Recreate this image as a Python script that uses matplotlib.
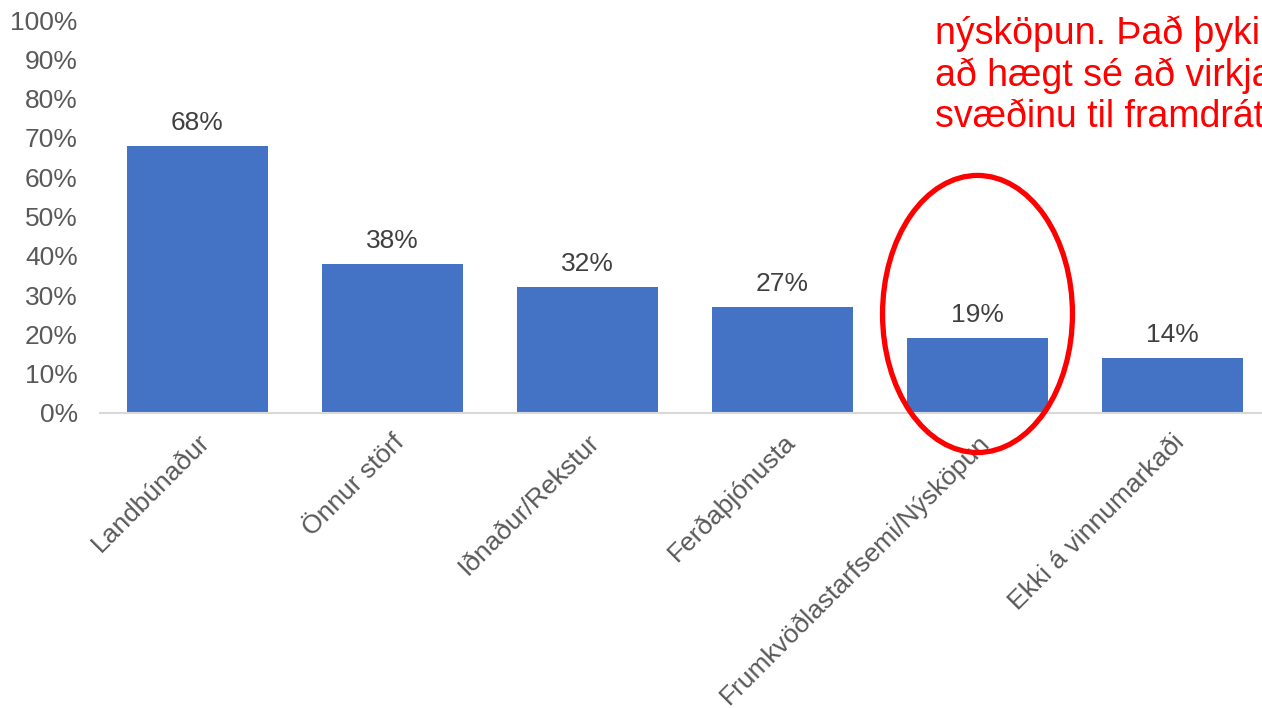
import matplotlib
matplotlib.use("Agg")
import matplotlib.pyplot as plt
from matplotlib.patches import Ellipse

categories = ["Landbúnaður", "Önnur störf", "Iðnaður/Rekstur", "Ferðaþjónusta",
              "Frumkvöðlastarfsemi/Nýsköpun", "Ekki á vinnumarkaði"]
values = [68, 38, 32, 27, 19, 14]
value_labels = ["68%", "38%", "32%", "27%", "19%", "14%"]
yticks = [0, 10, 20, 30, 40, 50, 60, 70, 80, 90, 100]
ytick_labels = [f"{v}%" for v in yticks]
note_lines = ["nýsköpun. Það þykir", "að hægt sé að virkja", "svæðinu til framdráttar"]

plt.rcParams['font.family'] = ['Liberation Sans', 'DejaVu Sans']

W, H = 1262, 708
fig = plt.figure(figsize=(W / 100, H / 100), dpi=100)
ax = fig.add_axes([100 / W, 1 - 413 / H, 1170 / W, (413 - 20) / H])

x = list(range(len(categories)))
ax.bar(x, values, width=0.718, color="#4472C4", zorder=2)
ax.set_xlim(-0.5, len(categories) - 0.5)
ax.set_ylim(0, 100)

for xi, v, lab in zip(x, values, value_labels):
    ax.annotate(lab, (xi, v), xytext=(0, 8), textcoords="offset points",
                ha="center", va="bottom", fontsize=19, color="#404040")

ax.set_yticks(yticks)
ax.set_yticklabels(ytick_labels, fontsize=19, color="#595959")
ax.set_xticks(x)
ax.set_xticklabels(categories, fontsize=19, color="#595959", rotation=45,
                   ha="right", va="top", rotation_mode="anchor")
ax.tick_params(axis="y", length=0, pad=16)
ax.tick_params(axis="x", length=0, pad=12)
for s in ["top", "right", "left"]:
    ax.spines[s].set_visible(False)
ax.spines["bottom"].set_color("#D9D9D9")
ax.spines["bottom"].set_linewidth(1.5)

ell = Ellipse((4, 25.2), width=0.974, height=70.5, fill=False,
              edgecolor="#FF0000", linewidth=3.8, clip_on=False, zorder=3)
ax.add_patch(ell)

fig.text(935 / W, 1 - 15 / H, "\n".join(note_lines), color="#FF0000",
         fontsize=27, ha="left", va="top", linespacing=1.2)

fig.savefig("out.png", dpi=100)
